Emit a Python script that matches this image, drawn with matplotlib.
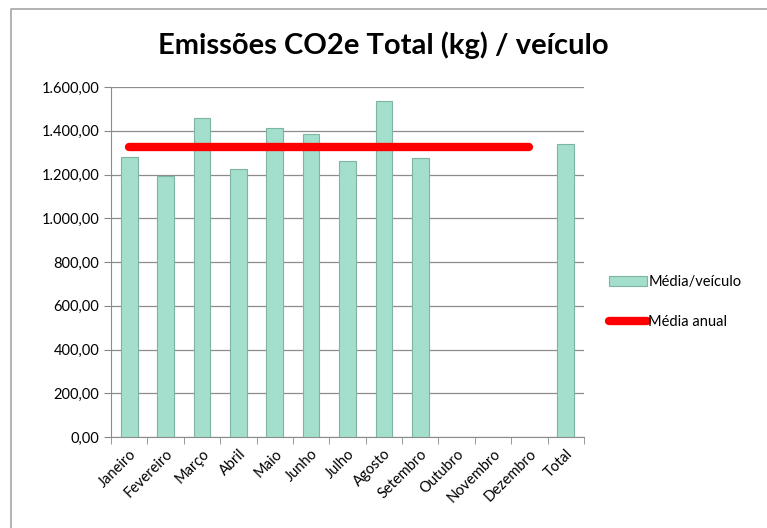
import numpy as np
from matplotlib import pyplot as plt
from matplotlib.lines import Line2D
from matplotlib.ticker import FuncFormatter, FixedLocator

meses = ["Janeiro", "Fevereiro", "Março", "Abril", "Maio", "Junho", "Julho",
         "Agosto", "Setembro", "Outubro", "Novembro", "Dezembro", "Total"]
media_veiculo = [1280, 1195, 1460, 1224, 1414, 1384, 1263, 1537, 1274,
                 np.nan, np.nan, np.nan, 1339]
media_anual = [1324] * 12

TITLE = "Emissões CO2e Total (kg) / veículo"

plt.rcParams['font.family'] = ['Lato', 'DejaVu Sans']

fig = plt.figure(figsize=(7.67, 5.28), dpi=100)
ax = fig.add_axes([111 / 767, 1 - 437 / 528, (584 - 111) / 767, 350 / 528])

# moldura do gráfico (só topo e esquerda aparecem no recorte)
fig.add_artist(Line2D([11 / 767, 11 / 767, 1], [0, 1 - 9 / 528, 1 - 9 / 528],
                      transform=fig.transFigure, color="#a6a6a6", linewidth=1.2))

x = np.arange(len(meses))
barras = ax.bar(x, media_veiculo, width=0.46, color="#a3dfcc", edgecolor="#7fb3a4",
                linewidth=0.8, label="Média/veículo", zorder=3)
linha, = ax.plot(x[:12], media_anual, color="#ff0000", linewidth=6, solid_capstyle="round",
                 label="Média anual", zorder=4)

fig.text(0.5, 1 - 45 / 528, TITLE, ha="center", va="center", fontsize=21, fontweight="bold")

ax.set_ylim(0, 1600)
ax.set_yticks(np.arange(0, 1601, 200))
ax.yaxis.set_major_formatter(FuncFormatter(
    lambda v, p: f"{v:,.2f}".replace(",", "X").replace(".", ",").replace("X", ".")))
ax.set_xlim(-0.5, len(meses) - 0.5)
ax.set_xticks(x)
ax.set_xticklabels(meses, rotation=45, ha="right", rotation_mode="anchor", fontsize=10.5)
ax.xaxis.set_minor_locator(FixedLocator(np.arange(-0.5, len(meses), 1)))
ax.tick_params(axis="x", which="major", length=0, pad=7)
ax.tick_params(axis="x", which="minor", length=5, color="#888888")
ax.tick_params(axis="y", labelsize=10.5, length=5, color="#888888")

ax.grid(axis="y", color="#8c8c8c", linewidth=0.9, zorder=0)
for s in ["top", "right"]:
    ax.spines[s].set_visible(False)
for s in ["left", "bottom"]:
    ax.spines[s].set_color("#8c8c8c")

ax.legend([barras, linha], ["Média/veículo", "Média anual"],
          loc="center left", bbox_to_anchor=(1.04, 0.385), frameon=False, fontsize=10.5,
          handlelength=2.6, handletextpad=0.1, labelspacing=1.75, borderaxespad=0)

fig.savefig("out.png", dpi=100)
